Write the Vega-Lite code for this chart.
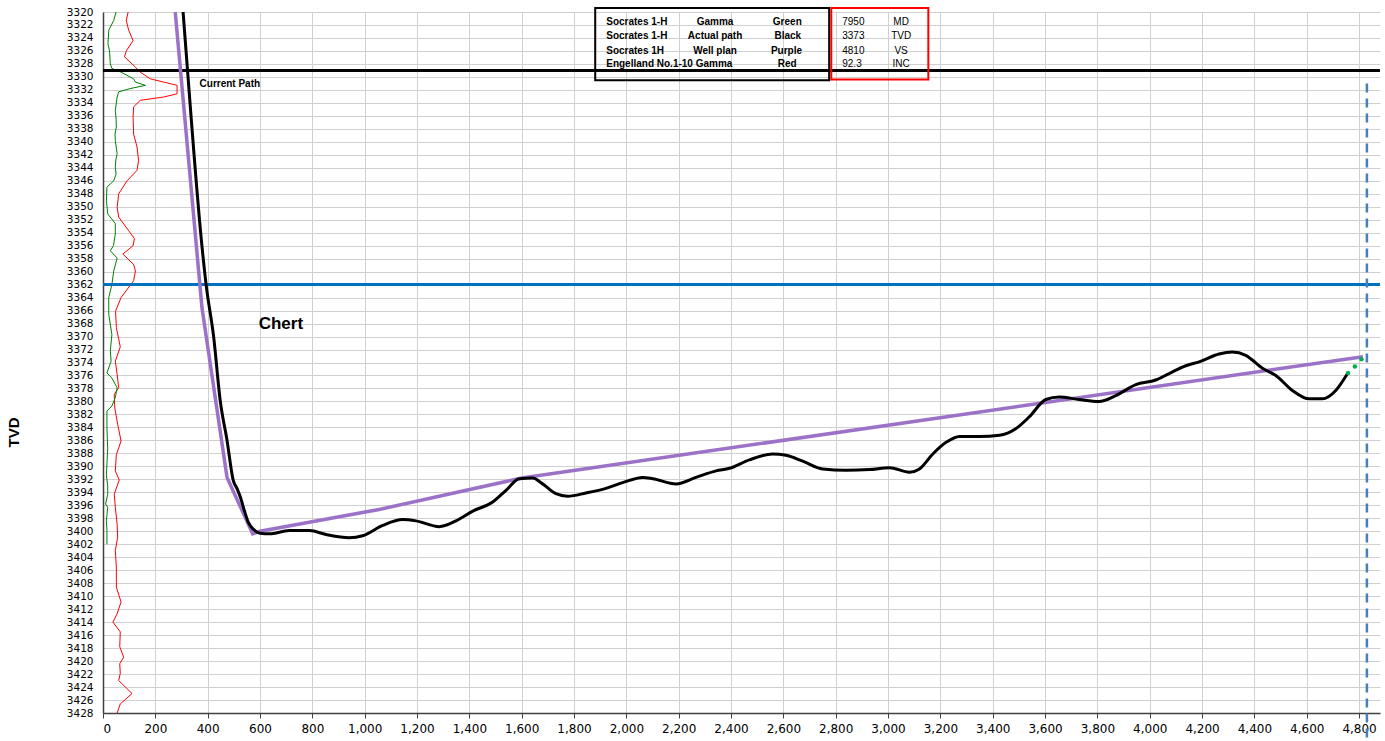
{
  "$schema": "https://vega.github.io/schema/vega-lite/v6.json",
  "autosize": {"type": "none"},
  "padding": {"left": 103, "top": 12, "right": 5, "bottom": 28},
  "width": 1277,
  "height": 701,
  "background": "white",
  "config": {
    "view": {"stroke": null},
    "font": "Liberation Sans",
    "axis": {"labelFont": "DejaVu Sans", "titleFont": "Liberation Sans", "labelColor": "#000", "gridColor": "#d0d0d0", "gridWidth": 1, "domainColor": "#404040", "tickColor": "#404040"}
  },
  "datasets": {
    "actual": [
      {"i":1,"x":306,"y":3320},{"i":2,"x":323,"y":3329},{"i":3,"x":378,"y":3356},{"i":4,"x":394,"y":3362},{"i":5,"x":423,"y":3370.1},{"i":6,"x":448,"y":3379.9},{"i":7,"x":474,"y":3386},{"i":8,"x":498,"y":3392.2},{"i":9,"x":512,"y":3393.4},{"i":10,"x":527,"y":3395},{"i":11,"x":540,"y":3396.8},{"i":12,"x":555,"y":3398.6},{"i":13,"x":575,"y":3399.7},{"i":14,"x":600,"y":3400.3},{"i":15,"x":636,"y":3400.4},{"i":16,"x":712,"y":3399.9},{"i":17,"x":789,"y":3399.9},{"i":18,"x":852,"y":3400.5},{"i":19,"x":941,"y":3401.0},{"i":20,"x":992,"y":3400.7},{"i":21,"x":1069,"y":3399.1},{"i":22,"x":1145,"y":3398.2},{"i":23,"x":1196,"y":3398.4},{"i":24,"x":1285,"y":3399.3},{"i":25,"x":1349,"y":3398.4},{"i":26,"x":1413,"y":3396.9},{"i":27,"x":1489,"y":3395.5},{"i":28,"x":1540,"y":3393.7},{"i":29,"x":1591,"y":3391.9},{"i":30,"x":1642,"y":3391.8},{"i":31,"x":1680,"y":3392.7},{"i":32,"x":1731,"y":3394.2},{"i":33,"x":1776,"y":3394.6},{"i":34,"x":1846,"y":3394.1},{"i":35,"x":1922,"y":3393.4},{"i":36,"x":1986,"y":3392.5},{"i":37,"x":2063,"y":3391.7},{"i":38,"x":2101,"y":3391.9},{"i":39,"x":2190,"y":3392.7},{"i":40,"x":2266,"y":3391.7},{"i":41,"x":2343,"y":3390.7},{"i":42,"x":2394,"y":3390.3},{"i":43,"x":2470,"y":3389.0},{"i":44,"x":2559,"y":3388.1},{"i":45,"x":2610,"y":3388.3},{"i":46,"x":2674,"y":3389.2},{"i":47,"x":2750,"y":3390.4},{"i":48,"x":2840,"y":3390.6},{"i":49,"x":2929,"y":3390.5},{"i":50,"x":3005,"y":3390.2},{"i":51,"x":3082,"y":3390.9},{"i":52,"x":3120,"y":3390.4},{"i":53,"x":3171,"y":3388.1},{"i":54,"x":3222,"y":3386.3},{"i":55,"x":3273,"y":3385.4},{"i":56,"x":3349,"y":3385.4},{"i":57,"x":3426,"y":3385.2},{"i":58,"x":3488,"y":3384.2},{"i":59,"x":3539,"y":3382.4},{"i":60,"x":3603,"y":3379.7},{"i":61,"x":3654,"y":3379.3},{"i":62,"x":3730,"y":3379.7},{"i":63,"x":3806,"y":3380},{"i":64,"x":3870,"y":3379.1},{"i":65,"x":3947,"y":3377.4},{"i":66,"x":4023,"y":3376.7},{"i":67,"x":4074,"y":3375.7},{"i":68,"x":4138,"y":3374.5},{"i":69,"x":4189,"y":3373.9},{"i":70,"x":4265,"y":3372.7},{"i":71,"x":4316,"y":3372.4},{"i":72,"x":4367,"y":3372.9},{"i":73,"x":4431,"y":3374.9},{"i":74,"x":4482,"y":3376.0},{"i":75,"x":4545,"y":3378.3},{"i":76,"x":4609,"y":3379.6},{"i":77,"x":4660,"y":3379.6},{"i":78,"x":4711,"y":3378.3},{"i":79,"x":4756,"y":3375.7}
    ],
    "plan": [
      {"i":1,"x":276,"y":3320},{"i":2,"x":378,"y":3365.5},{"i":3,"x":474,"y":3391.7},{"i":4,"x":572,"y":3400.4},{"i":5,"x":600,"y":3400},{"i":6,"x":1060,"y":3396.6},{"i":7,"x":1600,"y":3391.8},{"i":8,"x":4815,"y":3373.1}
    ],
    "green": [
      {"i":1,"x":50,"y":3320},{"i":2,"x":41,"y":3321.3},{"i":3,"x":22,"y":3322.8},{"i":4,"x":19,"y":3324.9},{"i":5,"x":25,"y":3326},{"i":6,"x":28,"y":3328},{"i":7,"x":34,"y":3328.7},{"i":8,"x":66,"y":3329.2},{"i":9,"x":117,"y":3330.3},{"i":10,"x":124,"y":3330.8},{"i":11,"x":162,"y":3331.3},{"i":12,"x":104,"y":3331.8},{"i":13,"x":60,"y":3332.3},{"i":14,"x":54,"y":3333.1},{"i":15,"x":47,"y":3335.2},{"i":16,"x":50,"y":3336.5},{"i":17,"x":51,"y":3337.7},{"i":18,"x":46,"y":3338.8},{"i":19,"x":47,"y":3339.8},{"i":20,"x":54,"y":3341.8},{"i":21,"x":49,"y":3342.8},{"i":22,"x":47,"y":3343.9},{"i":23,"x":50,"y":3345},{"i":24,"x":41,"y":3346},{"i":25,"x":15,"y":3347},{"i":26,"x":13,"y":3349},{"i":27,"x":18,"y":3351.1},{"i":28,"x":47,"y":3352.6},{"i":29,"x":47,"y":3354.2},{"i":30,"x":40,"y":3356},{"i":31,"x":28,"y":3356.8},{"i":32,"x":54,"y":3357.9},{"i":33,"x":41,"y":3359.9},{"i":34,"x":34,"y":3362},{"i":35,"x":22,"y":3364},{"i":36,"x":22,"y":3366.6},{"i":37,"x":34,"y":3369.7},{"i":38,"x":28,"y":3372.2},{"i":39,"x":31,"y":3373.8},{"i":40,"x":15,"y":3375.6},{"i":41,"x":34,"y":3376.4},{"i":42,"x":54,"y":3377.9},{"i":43,"x":47,"y":3379.4},{"i":44,"x":34,"y":3380.7},{"i":45,"x":15,"y":3381.5},{"i":46,"x":15,"y":3384.1},{"i":47,"x":18,"y":3387.2},{"i":48,"x":13,"y":3391.3},{"i":49,"x":18,"y":3393},{"i":50,"x":18,"y":3394.3},{"i":51,"x":10,"y":3395.8},{"i":52,"x":18,"y":3396.3},{"i":53,"x":13,"y":3398.4},{"i":54,"x":15,"y":3399.9},{"i":55,"x":15,"y":3402}
    ],
    "red": [
      {"i":1,"x":96,"y":3320},{"i":2,"x":89,"y":3321.3},{"i":3,"x":98,"y":3322.8},{"i":4,"x":115,"y":3324.4},{"i":5,"x":89,"y":3326},{"i":6,"x":82,"y":3326.9},{"i":7,"x":124,"y":3328.5},{"i":8,"x":140,"y":3329.2},{"i":9,"x":181,"y":3330.3},{"i":10,"x":283,"y":3331.3},{"i":11,"x":283,"y":3332.6},{"i":12,"x":232,"y":3333.1},{"i":13,"x":143,"y":3333.6},{"i":14,"x":117,"y":3334.6},{"i":15,"x":115,"y":3336.2},{"i":16,"x":117,"y":3338.8},{"i":17,"x":130,"y":3340.8},{"i":18,"x":136,"y":3342.9},{"i":19,"x":130,"y":3344.4},{"i":20,"x":92,"y":3346},{"i":21,"x":60,"y":3348},{"i":22,"x":54,"y":3350.1},{"i":23,"x":60,"y":3351.6},{"i":24,"x":98,"y":3353.7},{"i":25,"x":120,"y":3354.9},{"i":26,"x":115,"y":3356},{"i":27,"x":76,"y":3357.3},{"i":28,"x":117,"y":3358.9},{"i":29,"x":124,"y":3359.9},{"i":30,"x":117,"y":3361.4},{"i":31,"x":69,"y":3364},{"i":32,"x":48,"y":3366.1},{"i":33,"x":51,"y":3368.6},{"i":34,"x":66,"y":3371.6},{"i":35,"x":47,"y":3373.8},{"i":36,"x":54,"y":3375.8},{"i":37,"x":60,"y":3377.9},{"i":38,"x":43,"y":3378.9},{"i":39,"x":45,"y":3381},{"i":40,"x":56,"y":3383.5},{"i":41,"x":69,"y":3386.1},{"i":42,"x":51,"y":3388.2},{"i":43,"x":47,"y":3390.7},{"i":44,"x":62,"y":3392.1},{"i":45,"x":43,"y":3394.3},{"i":46,"x":47,"y":3396.3},{"i":47,"x":54,"y":3398.9},{"i":48,"x":56,"y":3400.9},{"i":49,"x":47,"y":3403},{"i":50,"x":51,"y":3405.5},{"i":51,"x":51,"y":3408.6},{"i":52,"x":69,"y":3410.9},{"i":53,"x":54,"y":3412.7},{"i":54,"x":38,"y":3414},{"i":55,"x":66,"y":3415.5},{"i":56,"x":64,"y":3417.8},{"i":57,"x":79,"y":3419.4},{"i":58,"x":64,"y":3420.4},{"i":59,"x":66,"y":3421.9},{"i":60,"x":60,"y":3423},{"i":61,"x":111,"y":3425},{"i":62,"x":66,"y":3426.6},{"i":63,"x":54,"y":3428}
    ],
    "dots": [
      {"x":4758,"y":3375.6},{"x":4784,"y":3374.6},{"x":4809,"y":3373.5}
    ],
    "hlines": [
      {"x":0,"x2":4880,"y":3329,"c":"#000000"},
      {"x":0,"x2":4880,"y":3362,"c":"#0070c0"}
    ],
    "vline": [
      {"x":4830,"y":3331,"y2":3432.5}
    ],
    "boxes": [
      {"x":1881,"x2":2775,"y":3319.4,"y2":3330.5,"c":"black"},
      {"x":2783,"x2":3154,"y":3319.4,"y2":3330.4,"c":"red"}
    ],
    "boldLeft": [
      {"x":1923,"y":3321.54,"t":"Socrates 1-H"},
      {"x":1923,"y":3323.75,"t":"Socrates 1-H"},
      {"x":1923,"y":3326.0,"t":"Socrates 1H"},
      {"x":1923,"y":3328.06,"t":"Engelland No.1-10  Gamma"},
      {"x":369,"y":3331.1,"t":"Current Path"}
    ],
    "boldCenter": [
      {"x":2339,"y":3321.54,"t":"Gamma"},
      {"x":2339,"y":3323.75,"t":"Actual path"},
      {"x":2339,"y":3326.0,"t":"Well plan"},
      {"x":2615,"y":3321.54,"t":"Green"},
      {"x":2617,"y":3323.75,"t":"Black"},
      {"x":2612,"y":3326.0,"t":"Purple"},
      {"x":2615,"y":3328.06,"t":"Red"}
    ],
    "vals": [
      {"x":2825,"y":3321.54,"t":"7950"},
      {"x":2825,"y":3323.75,"t":"3373"},
      {"x":2825,"y":3326.0,"t":"4810"},
      {"x":2825,"y":3328.06,"t":"92.3"}
    ],
    "units": [
      {"x":3050,"y":3321.54,"t":"MD"},
      {"x":3050,"y":3323.75,"t":"TVD"},
      {"x":3050,"y":3326.0,"t":"VS"},
      {"x":3050,"y":3328.06,"t":"INC"}
    ]
  },
  "encoding": {
    "x": {"field": "x", "type": "quantitative", "scale": {"domain": [0, 4880], "nice": false, "zero": false},
      "axis": {"values": [0,200,400,600,800,1000,1200,1400,1600,1800,2000,2200,2400,2600,2800,3000,3200,3400,3600,3800,4000,4200,4400,4600,4800], "format": ",d", "title": null, "grid": true, "labelFontSize": 12, "tickSize": 5, "labelPadding": 5, "domainWidth": 1.5, "labelOverlap": false}},
    "y": {"field": "y", "type": "quantitative", "scale": {"domain": [3320, 3428], "reverse": true, "nice": false, "zero": false},
      "axis": {"values": [3320,3322,3324,3326,3328,3330,3332,3334,3336,3338,3340,3342,3344,3346,3348,3350,3352,3354,3356,3358,3360,3362,3364,3366,3368,3370,3372,3374,3376,3378,3380,3382,3384,3386,3388,3390,3392,3394,3396,3398,3400,3402,3404,3406,3408,3410,3412,3414,3416,3418,3420,3422,3424,3426,3428], "format": "d", "title": "TVD", "grid": true, "titleFontSize": 15, "titleFontWeight": "bold", "titleX": -82, "titleY": 420, "labelFontSize": 10.5, "ticks": false, "labelPadding": 10, "labelOverlap": false, "domainWidth": 1.5}}
  },
  "layer": [
    {
      "data": {"name": "red"},
      "mark": {"type": "line", "color": "#ff0000", "strokeWidth": 1},
      "encoding": {"order": {"field": "i", "type": "quantitative"}}
    },
    {
      "data": {"name": "green"},
      "mark": {"type": "line", "color": "#008000", "strokeWidth": 1},
      "encoding": {"order": {"field": "i", "type": "quantitative"}}
    },
    {
      "data": {"name": "hlines"},
      "mark": {"type": "rule", "strokeWidth": 3},
      "encoding": {"x2": {"field": "x2"}, "stroke": {"field": "c", "type": "nominal", "scale": null}}
    },
    {
      "data": {"name": "vline"},
      "mark": {"type": "rule", "color": "#4a7ebb", "strokeWidth": 2.5, "strokeDash": [9, 6], "clip": false},
      "encoding": {"y2": {"field": "y2"}}
    },
    {
      "data": {"name": "plan"},
      "mark": {"type": "line", "color": "#9b72c8", "strokeWidth": 3.5, "clip": true},
      "encoding": {"order": {"field": "i", "type": "quantitative"}}
    },
    {
      "data": {"name": "actual"},
      "mark": {"type": "line", "color": "#000000", "strokeWidth": 3, "interpolate": "monotone", "clip": true},
      "encoding": {"order": {"field": "i", "type": "quantitative"}}
    },
    {
      "data": {"name": "dots"},
      "mark": {"type": "circle", "color": "#00b050", "size": 20, "opacity": 1}
    },
    {
      "data": {"name": "boxes"},
      "mark": {"type": "rect", "fill": null, "strokeWidth": 2, "clip": false},
      "encoding": {"x2": {"field": "x2"}, "y2": {"field": "y2"}, "stroke": {"field": "c", "type": "nominal", "scale": null}}
    },
    {
      "data": {"name": "boldLeft"},
      "mark": {"type": "text", "align": "left", "baseline": "middle", "fontSize": 10, "fontWeight": "bold", "color": "#000"},
      "encoding": {"text": {"field": "t"}}
    },
    {
      "data": {"name": "boldCenter"},
      "mark": {"type": "text", "align": "center", "baseline": "middle", "fontSize": 10, "fontWeight": "bold", "color": "#000"},
      "encoding": {"text": {"field": "t"}}
    },
    {
      "data": {"name": "vals"},
      "mark": {"type": "text", "align": "left", "baseline": "middle", "fontSize": 10, "color": "#000"},
      "encoding": {"text": {"field": "t"}}
    },
    {
      "data": {"name": "units"},
      "mark": {"type": "text", "align": "center", "baseline": "middle", "fontSize": 10, "color": "#000"},
      "encoding": {"text": {"field": "t"}}
    },
    {
      "data": {"values": [{"x": 595, "y": 3368, "t": "Chert"}]},
      "mark": {"type": "text", "align": "left", "baseline": "middle", "fontSize": 17, "fontWeight": "bold", "color": "#000"},
      "encoding": {"text": {"field": "t"}}
    }
  ]
}
